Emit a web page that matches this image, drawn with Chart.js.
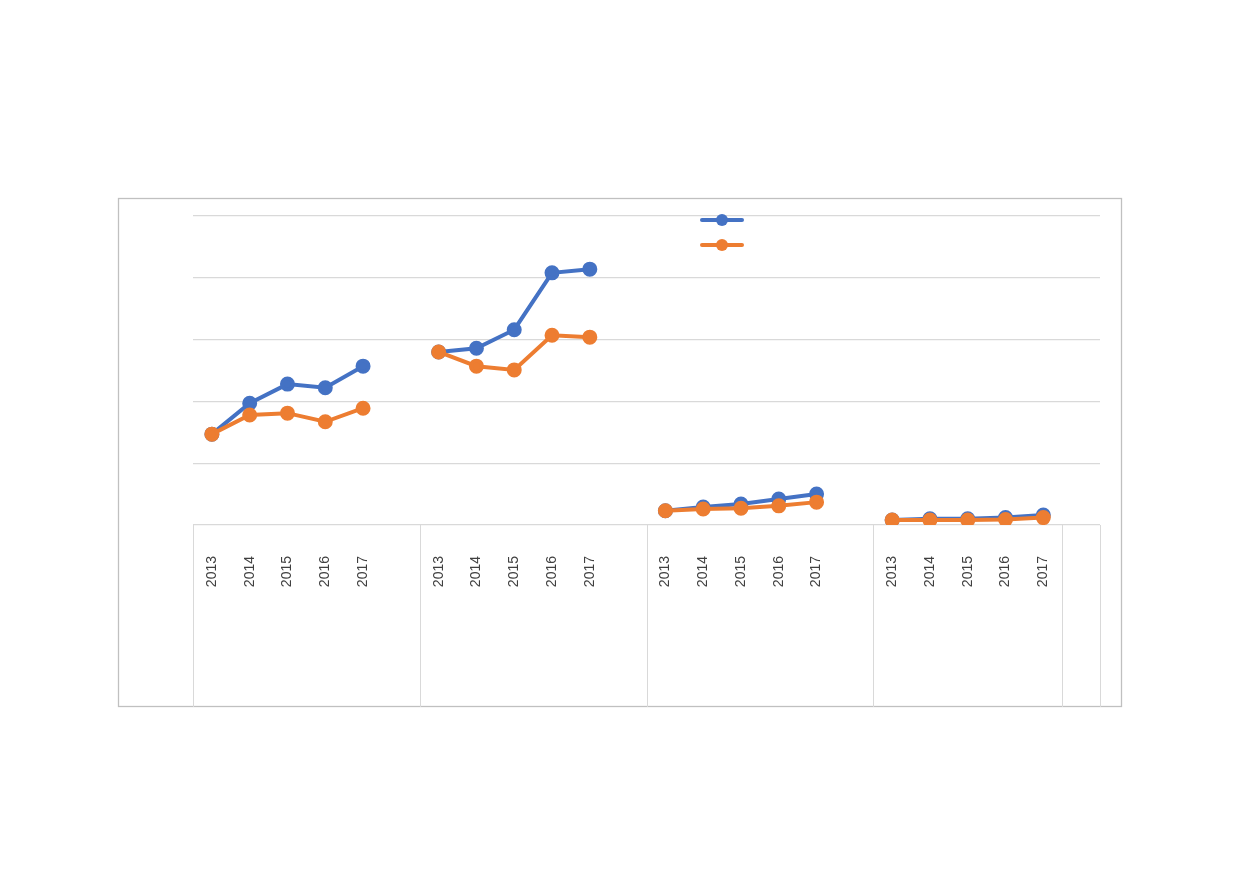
<!DOCTYPE html>
<html>
<head>
<meta charset="utf-8">
<script src="https://cdn.jsdelivr.net/npm/chart.js@4"></script>
<style>
  html, body { margin:0; padding:0; background:#fff; }
  #wrap { width:1239px; height:872px; position:relative; }
</style>
</head>
<body>
<div id="wrap"><canvas id="c" width="1239" height="872"></canvas></div>
<script>
// Categories: 4 groups of 5 years, separated by blank categories
const years = ['2013', '2014', '2015', '2016', '2017'];
const categories = [
  '2013','2014','2015','2016','2017','',
  '2013','2014','2015','2016','2017','',
  '2013','2014','2015','2016','2017','',
  '2013','2014','2015','2016','2017','',
];
// Group boundaries (category index where each group starts), last one is end
const groupStarts = [0, 6, 12, 18, 23, 24];

const seriesBlue = [
  1.47, 1.97, 2.28, 2.22, 2.57, null,
  2.80, 2.86, 3.16, 4.08, 4.14, null,
  0.23, 0.29, 0.34, 0.42, 0.50, null,
  0.08, 0.10, 0.10, 0.12, 0.16, null
];
const seriesOrange = [
  1.47, 1.78, 1.81, 1.67, 1.89, null,
  2.80, 2.57, 2.51, 3.07, 3.04, null,
  0.23, 0.26, 0.27, 0.31, 0.37, null,
  0.08, 0.08, 0.08, 0.09, 0.12, null
];
const yTicks = [0, 1, 2, 3, 4, 5];

const BLUE = '#4472C4';
const ORANGE = '#ED7D31';

const decor = {
  id: 'decor',
  beforeDraw(chart) {
    const ctx = chart.ctx;
    ctx.save();
    ctx.fillStyle = '#fff';
    ctx.fillRect(0, 0, chart.width, chart.height);
    ctx.strokeStyle = '#c0c0c0';
    ctx.lineWidth = 1.3;
    ctx.strokeRect(118.5, 198.5, 1003, 508);
    ctx.restore();
  },
  afterDraw(chart) {
    const ctx = chart.ctx;
    const x = chart.scales.x;
    const area = chart.chartArea;
    const step = (x.right - x.left) / categories.length;
    ctx.save();
    ctx.strokeStyle = '#d9d9d9';
    ctx.lineWidth = 1;
    groupStarts.forEach(i => {
      const px = Math.round(x.getPixelForValue(i) - step / 2) + 0.5;
      ctx.beginPath();
      ctx.moveTo(px, area.bottom);
      ctx.lineTo(px, 707);
      ctx.stroke();
    });
    // legend markers (no text)
    [[BLUE, 220], [ORANGE, 245]].forEach(([c, y]) => {
      ctx.strokeStyle = c;
      ctx.lineWidth = 4;
      ctx.lineCap = 'round';
      ctx.beginPath();
      ctx.moveTo(702, y);
      ctx.lineTo(742, y);
      ctx.stroke();
      ctx.fillStyle = c;
      ctx.beginPath();
      ctx.arc(722, y, 6, 0, Math.PI * 2);
      ctx.fill();
    });
    ctx.restore();
  }
};

new Chart(document.getElementById('c'), {
  type: 'line',
  data: {
    labels: categories,
    datasets: [
      {
        label: '', data: seriesBlue, borderColor: BLUE, backgroundColor: BLUE, order: 2,
        borderWidth: 4, pointRadius: 5.5, pointHoverRadius: 5.5, spanGaps: false, tension: 0
      },
      {
        label: '', data: seriesOrange, borderColor: ORANGE, backgroundColor: ORANGE, order: 1,
        borderWidth: 4, pointRadius: 5.5, pointHoverRadius: 5.5, spanGaps: false, tension: 0
      }
    ]
  },
  options: {
    responsive: false,
    animation: false,
    devicePixelRatio: 1,
    layout: { padding: { left: 193, right: 139, top: 216, bottom: 165 } },
    plugins: { legend: { display: false }, tooltip: { enabled: false } },
    scales: {
      x: {
        offset: true,
        grid: { display: false, drawTicks: false },
        border: { display: false },
        ticks: {
          autoSkip: false, maxRotation: 90, minRotation: 90, padding: 31,
          color: '#404040', font: { family: 'Liberation Sans', size: 14 }
        },
        afterFit(s) { s.height = 182; }
      },
      y: {
        min: 0, max: 5,
        afterBuildTicks(s) { s.ticks = yTicks.map(v => ({ value: v })); },
        grid: { color: '#d9d9d9', lineWidth: 1.3, drawTicks: false },
        border: { display: false },
        ticks: { display: false },
        afterFit(s) { s.width = 0; }
      }
    }
  },
  plugins: [decor]
});
</script>
</body>
</html>
